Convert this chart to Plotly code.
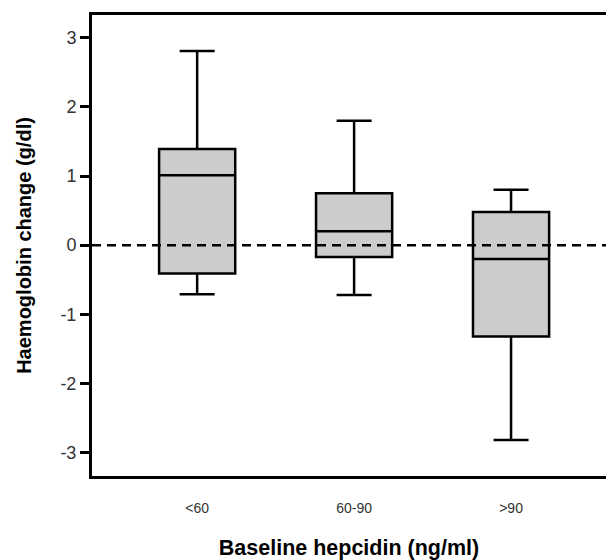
import plotly.graph_objects as go

categories = ["<60", "60-90", ">90"]
q1 = [-0.41, -0.17, -1.32]
median = [1.01, 0.20, -0.20]
q3 = [1.39, 0.75, 0.48]
lower = [-0.71, -0.72, -2.82]
upper = [2.81, 1.80, 0.80]
yticks = [-3, -2, -1, 0, 1, 2, 3]

fig = go.Figure()
fig.add_trace(go.Box(
    x=categories, q1=q1, median=median, q3=q3,
    lowerfence=lower, upperfence=upper,
    fillcolor="#cccccc", line=dict(color="black", width=2.5),
    width=0.485, whiskerwidth=0.46, boxpoints=False, hoverinfo="skip",
    showlegend=False,
))
fig.add_shape(type="line", xref="paper", x0=0, x1=1, yref="y", y0=0, y1=0,
              line=dict(color="black", width=2.5, dash="9px,6px"))

font = "Liberation Sans, Arial, Helvetica, sans-serif"
fig.update_layout(
    width=606, height=560,
    margin=dict(l=92, r=0, t=15, b=84),
    plot_bgcolor="white", paper_bgcolor="white",
    font=dict(family=font, color="#222"),
    xaxis=dict(
        type="category", range=[-0.67, 2.605],
        showline=True, linecolor="black", linewidth=3, mirror=True,
        ticks="outside", ticklen=17, tickcolor="rgba(0,0,0,0)",
        tickfont=dict(size=14, color="#333"), showgrid=False, zeroline=False,
        title=dict(text="Baseline hepcidin (ng/ml)",
                   font=dict(size=21.5, color="black", weight="bold"), standoff=28),
    ),
    yaxis=dict(
        range=[-3.34, 3.33], tickvals=yticks, ticktext=[str(v) for v in yticks],
        showline=True, linecolor="black", linewidth=3,
        ticks="outside", ticklen=9, tickwidth=3, tickcolor="black",
        tickfont=dict(size=18, color="#333"), showgrid=False, zeroline=False,
        title=dict(text="Haemoglobin change (g/dl)",
                   font=dict(size=20, color="black", weight="bold"), standoff=24),
    ),
)
fig.write_html("out.html")
